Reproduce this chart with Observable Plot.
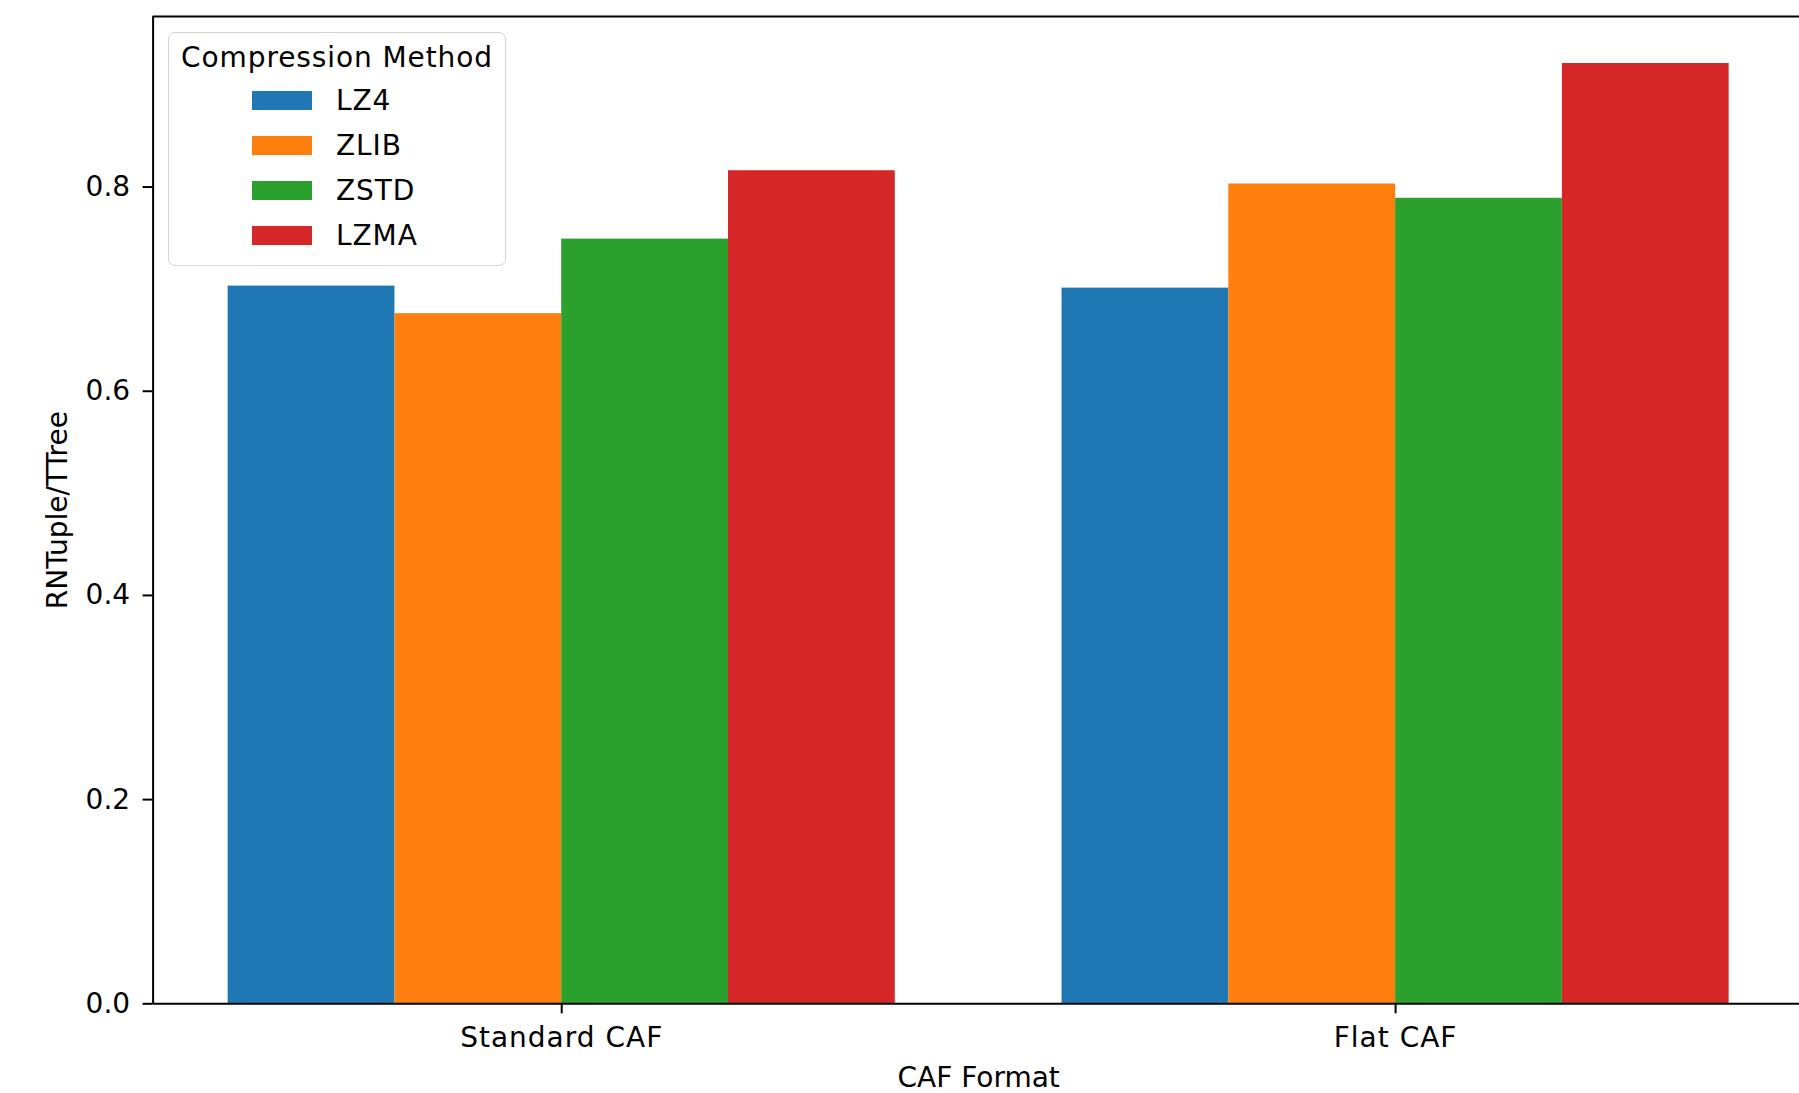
<!DOCTYPE html>
<html>
<head>
<meta charset="utf-8">
<script src="https://cdn.jsdelivr.net/npm/d3@7"></script>
<script src="https://cdn.jsdelivr.net/npm/@observablehq/plot@0.6"></script>
<style>
  html, body { margin: 0; padding: 0; background: #fff; }
  #wrap { position: relative; width: 1799px; height: 1093px; overflow: hidden; font-family: "DejaVu Sans", sans-serif; }
  #legend {
    position: absolute; left: 168px; top: 32px; width: 338px; height: 234px;
    border: 1.5px solid #d4d4d4; border-radius: 7px; background: rgba(255,255,255,0.8);
    box-sizing: border-box; font-size: 28px; color: #000; letter-spacing: 0.9px;
  }
  #legend .title { position: absolute; left: 0; right: 0; top: 8px; text-align: center; line-height: 34px; white-space: nowrap; }
  #legend .row { position: absolute; left: 83px; height: 34px; display: flex; align-items: center; white-space: nowrap; }
  #legend .sw { width: 60px; height: 19px; margin-right: 24px; }
</style>
</head>
<body>
<div id="wrap"></div>
<script>
const categories = ["Standard CAF", "Flat CAF"];
const methods = ["LZ4", "ZLIB", "ZSTD", "LZMA"];
const colors = ["#1f77b4", "#ff7f0e", "#2ca02c", "#d62728"];
const lz4  = [0.703, 0.701];
const zlib = [0.676, 0.803];
const zstd = [0.749, 0.789];
const lzma = [0.816, 0.921];
const yTicks = [0, 0.2, 0.4, 0.6, 0.8];
const xLabel = "CAF Format";
const yLabel = "RNTuple/TTree";
const legendTitle = "Compression Method";

const seriesValues = [lz4, zlib, zstd, lzma];
const barWidth = 0.2;
const rows = [];
methods.forEach((m, j) => {
  categories.forEach((c, i) => {
    const center = i + (j - (methods.length - 1) / 2) * barWidth;
    rows.push({category: c, method: m, value: seriesValues[j][i], x1: center - barWidth / 2, x2: center + barWidth / 2});
  });
});
const dataMin = d3.min(rows, d => d.x1), dataMax = d3.max(rows, d => d.x2);
const pad = (dataMax - dataMin) * 0.05;
const xDomain = [dataMin - pad, dataMax + pad];
const yMax = d3.max(rows, d => d.value) * 1.05;

const chart = Plot.plot({
  width: 1799,
  height: 1093,
  marginLeft: 152.6,
  marginRight: -4.7,
  marginTop: 16,
  marginBottom: 89.7,
  style: {fontFamily: "DejaVu Sans", fontSize: "28px", background: "white", color: "black"},
  x: {type: "linear", domain: xDomain, range: [152.6, 1803.7]},
  y: {type: "linear", domain: [0, yMax]},
  color: {domain: methods, range: colors},
  marks: [
    Plot.rectY(rows, {x1: "x1", x2: "x2", y1: 0, y2: "value", fill: "method"}),
    Plot.ruleY([0], {stroke: "black", strokeWidth: 2}),
    Plot.ruleY([yMax], {stroke: "black", strokeWidth: 2}),
    Plot.ruleX([xDomain[0]], {stroke: "black", strokeWidth: 2}),
    Plot.axisY({ticks: yTicks, tickFormat: d3.format(".1f"), tickSize: 10, tickPadding: 13, label: null, strokeWidth: 2, fontSize: 28}),
    Plot.axisX({ticks: categories.map((c, i) => i), tickFormat: i => categories[i], tickSize: 10, tickPadding: 13, label: null, strokeWidth: 2, fontSize: 28}),
    Plot.text([xLabel], {frameAnchor: "bottom", dy: 83, fontSize: 28, style: {letterSpacing: "1px"}}),
    Plot.text([yLabel], {frameAnchor: "left", textAnchor: "middle", rotate: -90, dx: -95, fontSize: 28, style: {letterSpacing: "0.6px"}})
  ]
});

d3.select(chart).selectAll("g[aria-label='x-axis tick label'] text").style("letter-spacing", "1px");

const wrap = document.getElementById("wrap");
wrap.appendChild(chart);

const legend = document.createElement("div");
legend.id = "legend";
const t = document.createElement("div");
t.className = "title";
t.textContent = legendTitle;
legend.appendChild(t);
methods.forEach((m, j) => {
  const r = document.createElement("div");
  r.className = "row";
  r.style.top = (50 + j * 45) + "px";
  const sw = document.createElement("div");
  sw.className = "sw";
  sw.style.background = colors[j];
  const lab = document.createElement("span");
  lab.textContent = m;
  r.appendChild(sw);
  r.appendChild(lab);
  legend.appendChild(r);
});
wrap.appendChild(legend);
</script>
</body>
</html>
